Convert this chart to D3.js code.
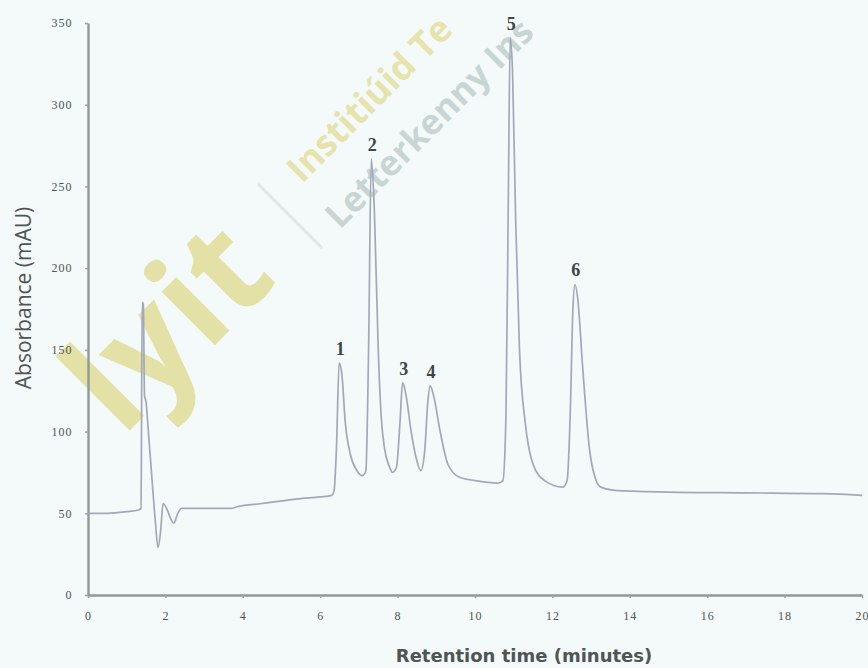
<!DOCTYPE html>
<html>
<head>
<meta charset="utf-8">
<script src="https://cdn.jsdelivr.net/npm/d3@7"></script>
<style>
  body { margin: 0; background: #f3faf9; }
  svg { display: block; }
</style>
</head>
<body>
<div id="chart"></div>
<script>
// chromatogram trace
const times = [0, 0.5, 1.0, 1.3, 1.37, 1.40, 1.43, 1.46, 1.5, 1.56, 1.65, 1.74, 1.81, 1.88, 1.94, 2.05, 2.15, 2.22, 2.32, 2.42,
  3.0, 3.7, 3.85, 4.5, 5.5, 6.0, 6.3, 6.36, 6.42, 6.49, 6.56, 6.65, 6.78, 6.95, 7.09, 7.18, 7.25, 7.32, 7.4, 7.5, 7.58,
  7.66, 7.78, 7.87, 7.97, 8.06, 8.13, 8.22, 8.35, 8.5, 8.6, 8.7, 8.78, 8.84, 8.93, 9.1, 9.3, 9.6, 10.0, 10.6, 10.72,
  10.8, 10.86, 10.91, 10.97, 11.05, 11.15, 11.3, 11.5, 11.8, 12.27, 12.38, 12.46, 12.53, 12.58, 12.66, 12.78, 12.96,
  13.1, 13.25, 13.6, 15, 17, 19, 20];
const absorbance = [50, 50, 51, 52, 53, 179, 178, 122, 118, 100, 72, 45, 29, 40, 56, 52, 46, 44, 50, 53,
  53, 53, 54, 56, 59, 60, 61, 64, 90, 142, 135, 105, 86, 76, 73, 76, 150, 267, 235, 150, 108,
  90, 79, 75, 78, 105, 130, 122, 100, 82, 76, 88, 118, 128, 122, 100, 80, 72, 70, 68.5, 70,
  110, 240, 341, 320, 230, 150, 105, 80, 70, 66, 70, 110, 175, 190, 180, 140, 89,
  72, 66, 64, 63, 62.5, 62, 61];

const peakLabels = ["1", "2", "3", "4", "5", "6"];
const peakTimes = [6.49, 7.32, 8.13, 8.84, 10.91, 12.58];
const peakHeights = [142, 267, 130, 128, 341, 190];

const xTicks = [0, 2, 4, 6, 8, 10, 12, 14, 16, 18, 20];
const yTicks = [0, 50, 100, 150, 200, 250, 300, 350];

const W = 868, H = 668;
const margin = { top: 23, right: 6, bottom: 73, left: 88 };
const width = W - margin.left - margin.right;
const height = H - margin.top - margin.bottom;

const svg = d3.select("#chart").append("svg")
  .attr("width", W)
  .attr("height", H);

svg.append("rect").attr("width", W).attr("height", H).attr("fill", "#f3faf9");

// watermark behind the chart
const wm = svg.append("g").attr("pointer-events", "none");
wm.append("text")
  .attr("transform", "translate(122,438) rotate(-45)")
  .style("font", "bold 138px 'Open Sans', sans-serif")
  .attr("fill", "#e4e1a6")
  .text("lyit");
wm.append("line")
  .attr("x1", 258).attr("y1", 184).attr("x2", 322).attr("y2", 248)
  .attr("stroke", "#dfe6e5").attr("stroke-width", 3);
wm.append("text")
  .attr("transform", "translate(302,184) rotate(-45)")
  .style("font", "bold 36px 'Open Sans', sans-serif")
  .attr("fill", "#e6e3ad")
  .text("Institiúid Te");
wm.append("text")
  .attr("transform", "translate(340,230) rotate(-45)")
  .style("font", "bold 35px 'Open Sans', sans-serif")
  .attr("fill", "#c9d5d5")
  .text("Letterkenny Ins");

const g = svg.append("g")
  .attr("transform", `translate(${margin.left},${margin.top})`);

const x = d3.scaleLinear().domain([0, 20]).range([0, width]);
const y = d3.scaleLinear().domain([0, 350]).range([height, 0]);

const xAxis = g.append("g")
  .attr("transform", `translate(0,${height})`)
  .call(d3.axisBottom(x).tickValues(xTicks).tickSize(3).tickSizeOuter(0));
const yAxis = g.append("g")
  .call(d3.axisLeft(y).tickValues(yTicks).tickSize(3).tickSizeOuter(0));

[xAxis, yAxis].forEach(a => {
  a.select(".domain").attr("stroke", "#8f9998").attr("stroke-width", 2.4);
  a.selectAll(".tick line").attr("stroke", "#9aa3a2").attr("stroke-width", 1.5);
  a.selectAll(".tick text")
    .attr("fill", "#4f5555")
    .style("font", "12px 'Liberation Serif', serif")
    .style("letter-spacing", "1px");
});
xAxis.selectAll(".tick text").attr("dy", "1.55em");
yAxis.selectAll(".tick text").attr("dx", "-0.8em");

const trace = times.map((t, i) => [t, absorbance[i]]);
g.append("path")
  .datum(trace)
  .attr("fill", "none")
  .attr("stroke", "#a2a8b8")
  .attr("stroke-width", 1.7)
  .attr("stroke-linejoin", "round")
  .attr("d", d3.line().curve(d3.curveMonotoneX).x(d => x(d[0])).y(d => y(d[1])));

g.selectAll(".peak")
  .data(peakLabels)
  .join("text")
  .attr("class", "peak")
  .attr("x", (d, i) => x(peakTimes[i]) + 1)
  .attr("y", (d, i) => y(peakHeights[i]) - 8)
  .attr("text-anchor", "middle")
  .attr("fill", "#3f4444")
  .style("font", "bold 18px 'Liberation Serif', serif")
  .text(d => d);

svg.append("text")
  .attr("x", 524)
  .attr("y", 662)
  .attr("text-anchor", "middle")
  .attr("fill", "#4f5555")
  .style("font", "bold 18px 'DejaVu Sans', sans-serif")
  .text("Retention time (minutes)");

svg.append("text")
  .attr("transform", "translate(31,298) rotate(-90)")
  .attr("text-anchor", "middle")
  .attr("fill", "#4f5555")
  .style("font", "21px 'Open Sans', sans-serif")
  .text("Absorbance (mAU)");
</script>
</body>
</html>
